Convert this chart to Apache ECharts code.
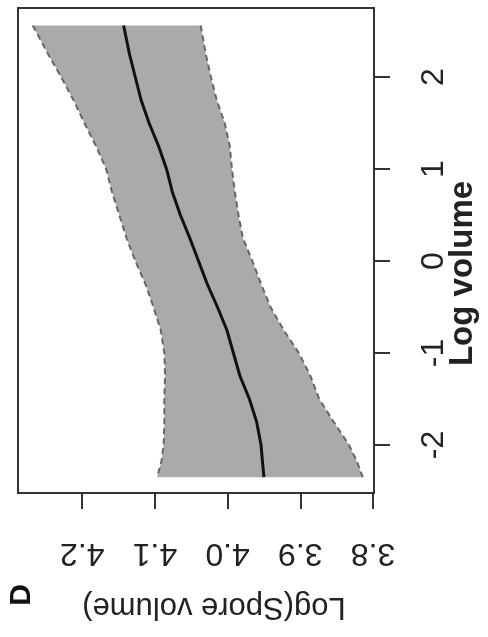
<!DOCTYPE html>
<html>
<head>
<meta charset="utf-8">
<script src="https://cdn.jsdelivr.net/npm/echarts@6/dist/echarts.min.js"></script>
<style>
html,body{margin:0;padding:0;background:#fff;}
#c{width:488px;height:637px;}
</style>
</head>
<body>
<div id="c"></div>
<script>
// Log volume (vertical axis in the rotated figure)
const logVolume = [2.56, 2.25, 2.0, 1.75, 1.5, 1.25, 1.0, 0.75, 0.5, 0.25, 0.0, -0.25, -0.5, -0.75, -1.0, -1.25, -1.5, -1.75, -2.0, -2.18, -2.35];
// fitted Log(Spore volume)
const fitSpore = [4.143, 4.135, 4.127, 4.119, 4.108, 4.095, 4.084, 4.076, 4.065, 4.052, 4.040, 4.028, 4.014, 4.001, 3.992, 3.983, 3.970, 3.960, 3.954, 3.952, 3.950];
// upper confidence bound
const upperSpore = [4.268, 4.247, 4.229, 4.212, 4.197, 4.181, 4.167, 4.159, 4.149, 4.139, 4.127, 4.113, 4.102, 4.092, 4.087, 4.086, 4.087, 4.087, 4.088, 4.091, 4.097];
// lower confidence bound
const lowerSpore = [4.037, 4.030, 4.023, 4.015, 4.004, 3.997, 3.994, 3.990, 3.985, 3.979, 3.966, 3.954, 3.941, 3.923, 3.902, 3.886, 3.874, 3.854, 3.833, 3.822, 3.814];
// tick labels
const sporeTicks = [3.8, 3.9, 4.0, 4.1, 4.2];
const volumeTicks = [-2, -1, 0, 1, 2];

const pairs = (xs, ys) => xs.map((x, i) => [x, ys[i]]);
const upperPts = pairs(upperSpore, logVolume);
const lowerPts = pairs(lowerSpore, logVolume);
const bandPts = upperPts.concat(lowerPts.slice().reverse());

const FONT = '"Liberation Sans", Arial, sans-serif';
const chart = echarts.init(document.getElementById('c'), null, {renderer: 'canvas'});
chart.setOption({
  animation: false,
  backgroundColor: '#fff',
  grid: {left: 18, right: 114, top: 8, bottom: 144, containLabel: false, outerBoundsMode: 'none',
    show: true, borderColor: '#333', borderWidth: 2, backgroundColor: 'transparent'},
  xAxis: {
    type: 'value', inverse: true, position: 'bottom',
    min: 3.7986, max: 4.2883,
    name: 'Log(Spore volume)', nameLocation: 'middle', nameGap: 98, nameRotate: 180,
    nameTextStyle: {fontFamily: FONT, fontSize: 31, color: '#222', padding: [0, 36, 0, 0]},
    axisLine: {show: false, onZero: false},
    splitLine: {show: false},
    axisTick: {show: true, customValues: sporeTicks, length: 16, lineStyle: {color: '#333', width: 2}},
    axisLabel: {customValues: sporeTicks, rotate: 180, margin: 44, fontFamily: FONT, fontSize: 32, color: '#222',
      formatter: v => Number(v).toFixed(1)}
  },
  yAxis: {
    type: 'value', position: 'right',
    min: -2.522, max: 2.75,
    name: 'Log volume', nameLocation: 'middle', nameGap: 72, nameRotate: 90, nameMoveOverlap: false,
    nameTextStyle: {fontFamily: FONT, fontSize: 33, fontWeight: 'bold', color: '#222', padding: [0, 46, 0, 0]},
    axisLine: {show: false, onZero: false},
    splitLine: {show: false},
    axisTick: {show: true, customValues: volumeTicks, length: 16, lineStyle: {color: '#333', width: 2}},
    axisLabel: {customValues: volumeTicks, rotate: 90, margin: 44, fontFamily: FONT, fontSize: 32, color: '#222',
      formatter: v => String(v)}
  },
  graphic: [{
    type: 'text', x: 22, y: 595, rotation: Math.PI / 2,
    style: {text: 'D', font: 'bold 30px ' + FONT, fill: '#111', align: 'center', verticalAlign: 'middle'}
  }],
  series: [
    {
      type: 'custom', silent: true, z: 1,
      data: bandPts,
      renderItem: function (params, api) {
        if (params.dataIndex !== 0) return null;
        const pts = bandPts.map(p => api.coord(p));
        return {type: 'polygon', shape: {points: pts}, style: {fill: '#aaaaaa', stroke: 'none'}};
      }
    },
    {type: 'line', data: upperPts, symbol: 'none', z: 2, lineStyle: {color: '#666', width: 2, type: [6, 4]}},
    {type: 'line', data: lowerPts, symbol: 'none', z: 2, lineStyle: {color: '#666', width: 2, type: [6, 4]}},
    {type: 'line', data: pairs(fitSpore, logVolume), symbol: 'none', z: 3, lineStyle: {color: '#111', width: 3}}
  ]
});
</script>
</body>
</html>
